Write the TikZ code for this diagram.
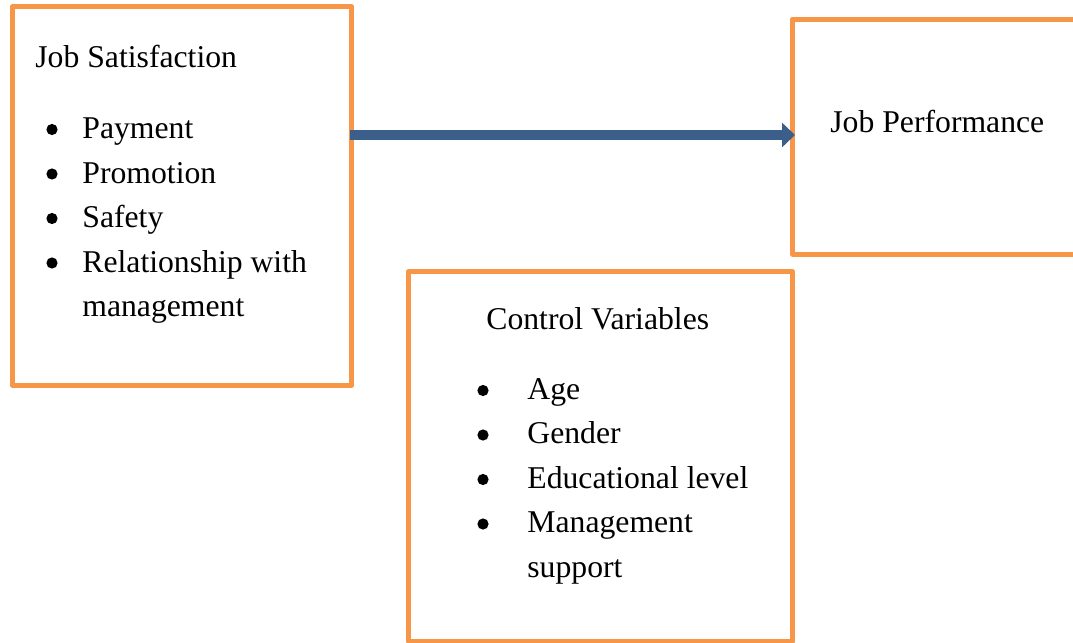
\documentclass[tikz,border=0pt]{standalone}
\usepackage{fontspec}
\setmainfont{Liberation Serif}
\usetikzlibrary{arrows.meta}
\definecolor{boxorange}{HTML}{F79646}
\definecolor{arrowblue}{HTML}{3B5E8B}

\begin{document}
\begin{tikzpicture}[x=0.5pt,y=-0.5pt,
  box/.style={draw=boxorange,line width=2.5pt,line join=round,outer sep=0pt,inner sep=0pt},
  txt/.style={anchor=base west,inner sep=0pt,font=\fontsize{15.85}{19}\selectfont},
  dot/.style={circle,fill,inner sep=0pt,minimum size=5.6pt}]

\clip (0,0) rectangle (1073,643);

%boxes
\node[box,minimum width=169.5pt,minimum height=189.5pt] (JS) at (182,196) {};
\node[box,minimum width=143.75pt,minimum height=117.5pt] (JP) at (936.25,136.5) {};
\node[box,minimum width=192pt,minimum height=184.6pt] (CV) at (600.5,456.4) {};

%job satisfaction
\node[txt] (JStitle) at (35,67) {Job Satisfaction};
\node[dot] (JSd1) at (52,129.5) {};
\node[dot] (JSd2) at (52,174) {};
\node[dot] (JSd3) at (52,218.5) {};
\node[dot] (JSd4) at (52,263) {};
\node[txt] (JSi1) at (82,138.5) {Payment};
\node[txt] (JSi2) at (82,183) {Promotion};
\node[txt] (JSi3) at (82,227.5) {Safety};
\node[txt] (JSi4) at (82,272) {Relationship with};
\node[txt] (JSi5) at (82,316.5) {management};

%job performance
\node[txt] (JPtitle) at (830,132) {Job Performance};

%control variables
\node[txt] (CVtitle) at (486,329) {Control Variables};
\node[dot] (CVd1) at (483,390.5) {};
\node[dot] (CVd2) at (483,435) {};
\node[dot] (CVd3) at (483,479.5) {};
\node[dot] (CVd4) at (483,524) {};
\node[txt] (CVi1) at (527,399) {Age};
\node[txt] (CVi2) at (527,443.5) {Gender};
\node[txt] (CVi3) at (527,488) {Educational level};
\node[txt] (CVi4) at (527,532.5) {Management};
\node[txt] (CVi5) at (527,577) {support};

%arrow
\coordinate (arr) at (0,135);
\draw[arrowblue,line width=5pt,-{Triangle[length=6.5pt,width=12pt]},shorten <=-1pt,shorten >=-1.25pt] (JS.east |- arr) -- (JP.west |- arr);

\end{tikzpicture}
\end{document}
